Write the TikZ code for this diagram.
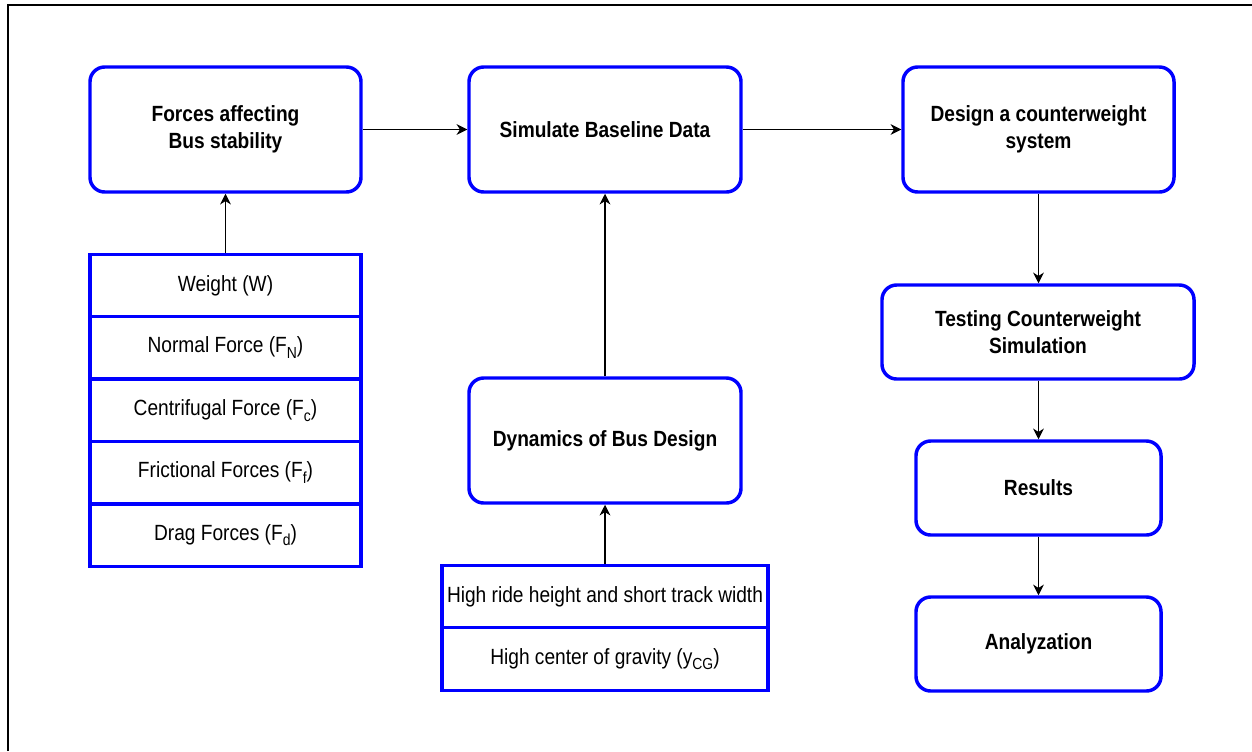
\documentclass[tikz,border=0pt]{standalone}
\usepackage{fontspec}
\setmainfont{Liberation Sans}[FakeStretch=0.87]
\usetikzlibrary{arrows.meta}
\newcommand\sbs[1]{\raisebox{-0.5ex}{\fontsize{12}{12}\selectfont #1}}
\def\px{0.75pt}
\definecolor{bblue}{RGB}{0,0,255}
\begin{document}
\begin{tikzpicture}[x=0.75pt,y=-0.75pt,
  proc/.style={draw=bblue,line width=2.6pt,rounded corners=11pt,fill=white,inner sep=0pt,
    align=center,font=\fontsize{16.5}{20}\selectfont\bfseries},
  cell/.style={draw=bblue,line width=2.6pt,inner sep=0pt,align=center,
    font=\fontsize{16.5}{20}\selectfont},
  arr/.style={draw=black,line width=1.1pt,-{Stealth[length=8pt,width=8pt,inset=2.5pt]}}]
\useasboundingbox (0,0) rectangle (1252,751);
\draw[line width=1.1pt] (8,751) -- (8,5) -- (1252,5);
% process boxes
\node[proc,minimum width=271*\px,minimum height=125*\px] (A) at (225.5,129.5) {Forces affecting\\Bus stability};
\node[proc,minimum width=272*\px,minimum height=125*\px] (B) at (605,129.5) {Simulate Baseline Data};
\node[proc,minimum width=271*\px,minimum height=125*\px] (C) at (1038.5,129.5) {Design a counterweight\\system};
\node[proc,minimum width=272*\px,minimum height=125*\px] (D) at (605,440.5) {Dynamics of Bus Design};
\node[proc,minimum width=312*\px,minimum height=94*\px] (E) at (1038,332) {Testing Counterweight\\Simulation};
\node[proc,minimum width=245*\px,minimum height=94*\px] (F) at (1038.5,488) {Results};
\node[proc,minimum width=245*\px,minimum height=94*\px] (G) at (1038.5,644) {Analyzation};
% table 1
\node[cell,minimum width=271*\px,minimum height=62.4*\px] (t1) at (225.5,285.5) {Weight (W)};
\node[cell,minimum width=271*\px,minimum height=62.4*\px] (t2) at (225.5,347.9) {Normal Force (F\sbs{N})};
\node[cell,minimum width=271*\px,minimum height=62.4*\px] (t3) at (225.5,410.3) {Centrifugal Force (F\sbs{c})};
\node[cell,minimum width=271*\px,minimum height=62.4*\px] (t4) at (225.5,472.7) {Frictional Forces (F\sbs{f})};
\node[cell,minimum width=271*\px,minimum height=62.4*\px] (t5) at (225.5,535.1) {Drag Forces (F\sbs{d})};
% table 2
\node[cell,minimum width=326*\px,minimum height=62.5*\px] (u1) at (605,596.5) {High ride height and short track width};
\node[cell,minimum width=326*\px,minimum height=62.5*\px] (u2) at (605,659) {High center of gravity (y\sbs{CG})};
% arrows
\draw[arr] (A.east) -- (B.west);
\draw[arr] (B.east) -- (C.west);
\draw[arr] (t1.north) -- (A.south);
\draw[arr] (D.north) -- (B.south);
\draw[arr] (u1.north) -- (D.south);
\draw[arr] (C.south) -- (C.south |- E.north);
\draw[arr] (E.south -| F.north) -- (F.north);
\draw[arr] (F.south) -- (G.north);
\end{tikzpicture}
\end{document}
